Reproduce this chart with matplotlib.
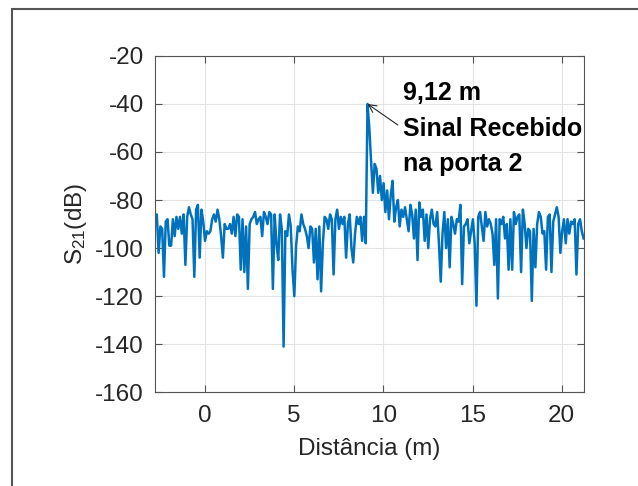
import matplotlib.pyplot as plt
import numpy as np
from matplotlib.patches import Rectangle

# Sample grid start and step (m)
x_start = -2.78
x_step = 0.1

# S21 (dB), in segments
s21_a = [
    -89, -86, -102, -91, -92, -112, -89, -88, -99, -99,
    -88, -95, -87, -92, -87, -94, -86, -107, -87, -83,
    -86, -88, -112, -84, -82, -104, -84, -89, -97, -93,
    -94, -93, -88, -86, -89, -84, -88, -95, -104, -90,
]
s21_b = [
    -92, -92, -90, -94, -87, -95, -86, -87, -109, -88,
    -110, -91, -117, -90, -88, -87, -85, -90, -88, -87,
    -95, -85, -87, -90, -85, -86, -117, -86, -98, -105,
    -86, -92, -141, -93, -95, -86, -91, -109, -120, -99,
]
s21_c = [
    -91, -93, -86, -90, -92, -95, -100, -91, -92, -106,
    -92, -113, -91, -118, -98, -87, -88, -92, -86, -88,
    -111, -88, -84, -92, -87, -90, -87, -104, -90, -86,
    -100, -106, -94, -87, -90, -87, -97, -87, -98,
]
s21_peak = [
    -40, -50, -64, -77, -65, -67, -77, -70, -80, -73,
    -85, -76, -88, -78, -72, -89, -83, -80, -91, -84,
    -87, -83, -88, -93, -82, -86, -96, -84, -105, -81,
    -87, -84, -97, -86, -100, -88, -84, -90,
]
s21_d = [
    -91, -85, -98, -114, -94, -85, -100, -88, -108, -87,
    -90, -94, -88, -89, -82, -115, -91, -90, -88, -98,
    -93, -88, -98, -124, -87, -85, -91, -97, -85, -91,
    -88, -90, -94, -107, -88, -121, -88, -90, -87, -96,
    -90, -109,
]
s21_e = [
    -88, -109, -85, -90, -87, -86, -110, -84, -90, -100,
    -92, -93, -122, -92, -108, -90, -85, -87, -94, -93,
    -109, -87, -86, -110, -89, -86, -83, -87, -102, -93,
    -88, -98, -88, -94, -89, -90, -88, -111, -90, -88,
    -93, -96,
]

s21 = np.array(s21_a + s21_b + s21_c + s21_peak + s21_d + s21_e, dtype=float)
dist = x_start + x_step * np.arange(len(s21))

peak_x = 9.12
peak_y = -40
peak_text = "9,12 m\nSinal Recebido\nna porta 2"

x_ticks = [0, 5, 10, 15, 20]
y_ticks = [-160, -140, -120, -100, -80, -60, -40, -20]

# Colours
mat_blu = "#0072BD"
mat_dgy = "#262626"
grid_gy = "#e3e3e3"

plt.rcParams.update(
    {
        "font.family": ["Liberation Sans", "DejaVu Sans"],
        "mathtext.default": "regular",
        "axes.unicode_minus": False,
        "font.size": 17.5,
    }
)

fig = plt.figure(figsize=(6.38, 4.86), dpi=100)
ax = fig.add_axes([0.243, 0.193, 0.672, 0.692])

# Outer frame, cut at right and bottom
fig.patches.append(
    Rectangle(
        (0.019, -0.1), 1.2, 1.0815, transform=fig.transFigure,
        fill=False, edgecolor="#555555", linewidth=1.5,
    )
)

ax.plot(dist, s21, color=mat_blu, linewidth=1.8)

# Annotation at the peak
ax.annotate(
    peak_text,
    xy=(peak_x, peak_y),
    xytext=(11.1, -30.5),
    ha="left",
    va="top",
    fontweight="bold",
    fontsize=18,
    linespacing=1.6,
    color="black",
    arrowprops=dict(arrowstyle="->", color=mat_dgy, lw=0.8,
                    mutation_scale=14, shrinkA=2, shrinkB=0,
                    relpos=(0.0, 0.5)),
)

ax.set_xlim(-2.78, 21.23)
ax.set_ylim(-160, -20)
ax.set_xticks(x_ticks)
ax.set_yticks(y_ticks)

ax.grid(True, color=grid_gy, linewidth=0.8)
ax.set_axisbelow(True)

ax.set_xlabel("Distância (m)", color=mat_dgy, labelpad=8)
ax.set_ylabel("S$_{21}$(dB)", color=mat_dgy, labelpad=4)

for spine in ax.spines.values():
    spine.set_color("#555555")
    spine.set_linewidth(0.8)
ax.tick_params(direction="in", top=True, right=True, length=5,
               colors="#555555", labelcolor=mat_dgy, which="both")
ax.tick_params(axis="x", pad=9)
ax.tick_params(axis="y", pad=8)

fig.savefig("out.png", dpi=100)
